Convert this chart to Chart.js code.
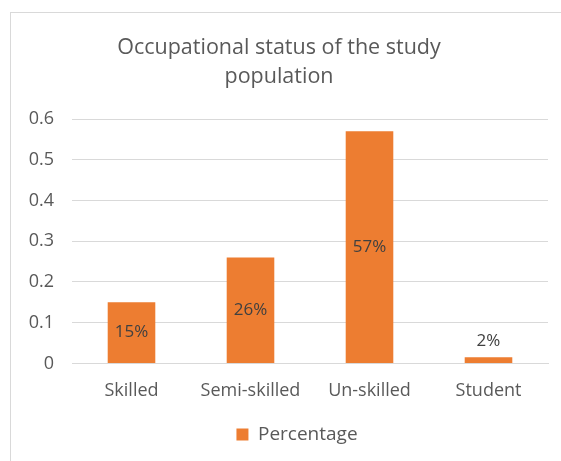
<!DOCTYPE html>
<html>
<head>
<meta charset="utf-8">
<script src="https://cdn.jsdelivr.net/npm/chart.js@4.4.1/dist/chart.umd.min.js"></script>
<style>
  html, body { margin: 0; padding: 0; background: #fff; overflow: hidden; }
  #wrap { position: relative; width: 561px; height: 461px; }
  #frame { position: absolute; left: 10px; top: 12px; width: 600px; height: 500px;
           border: 1px solid #d9d9d9; box-sizing: border-box; }
  canvas { position: absolute; left: 0; top: 0; }
</style>
</head>
<body>
<div id="wrap">
  <div id="frame"></div>
  <canvas id="myChart" width="561" height="461"></canvas>
</div>
<script>
var categories = ['Skilled', 'Semi-skilled', 'Un-skilled', 'Student'];
var percentage = [0.15, 0.26, 0.57, 0.015];
var titleLines = ['Occupational status of the study', 'population'];
var seriesName = 'Percentage';

var FONT = "'Open Sans', sans-serif";

// draws the % labels, centred in the bar or above it when the bar is too short
var barLabels = {
    id: 'barLabels',
    afterDatasetsDraw: function(chart) {
        var ctx = chart.ctx;
        var meta = chart.getDatasetMeta(0);
        ctx.save();
        ctx.font = '17px ' + FONT;
        ctx.fillStyle = '#404040';
        ctx.textAlign = 'center';
        ctx.textBaseline = 'middle';
        meta.data.forEach(function(bar, i) {
            var txt = Math.round(percentage[i] * 100) + '%';
            var h = bar.base - bar.y;
            var y = h > 24 ? bar.y + h / 2 : bar.y - 16;
            ctx.fillText(txt, bar.x, y);
        });
        ctx.restore();
    }
};

// excel puts the legend a little right of centre
var legendShift = {
    id: 'legendShift',
    afterLayout: function(chart) {
        chart.legend.left += 18;
        chart.legend.right += 18;
    }
};

var ctx = document.getElementById('myChart').getContext('2d');
var chart = new Chart(ctx, {
    type: 'bar',
    data: {
        labels: categories,
        datasets: [{
            label: seriesName,
            backgroundColor: '#ED7D31',
            borderWidth: 0,
            data: percentage,
            barPercentage: 0.4,
            categoryPercentage: 1.0
        }]
    },
    options: {
        responsive: false,
        animation: false,
        layout: { padding: { left: 10, right: 13, top: 0, bottom: 7 } },
        plugins: {
            tooltip: { enabled: false },
            title: {
                display: true,
                text: titleLines,
                color: '#595959',
                font: { family: FONT, size: 21.5, weight: 'normal', lineHeight: 1.35 },
                padding: { top: 33, bottom: 28 }
            },
            legend: {
                position: 'bottom',
                labels: {
                    color: '#595959',
                    font: { family: FONT, size: 19 },
                    boxWidth: 12,
                    boxHeight: 12,
                    padding: 14
                }
            }
        },
        scales: {
            x: {
                grid: { display: false },
                border: { display: true, color: '#d9d9d9', width: 1 },
                ticks: { color: '#595959', font: { family: FONT, size: 18 }, padding: 9 }
            },
            y: {
                min: 0,
                max: 0.6,
                afterFit: function(scale) { scale.width = 62; },
                grid: { color: '#d9d9d9', drawTicks: false },
                border: { display: false },
                ticks: {
                    stepSize: 0.1,
                    color: '#595959',
                    font: { family: FONT, size: 18 },
                    padding: 18,
                    callback: function(v) { return Math.round(v * 10) / 10; }
                }
            }
        }
    },
    plugins: [barLabels, legendShift]
});
</script>
</body>
</html>
